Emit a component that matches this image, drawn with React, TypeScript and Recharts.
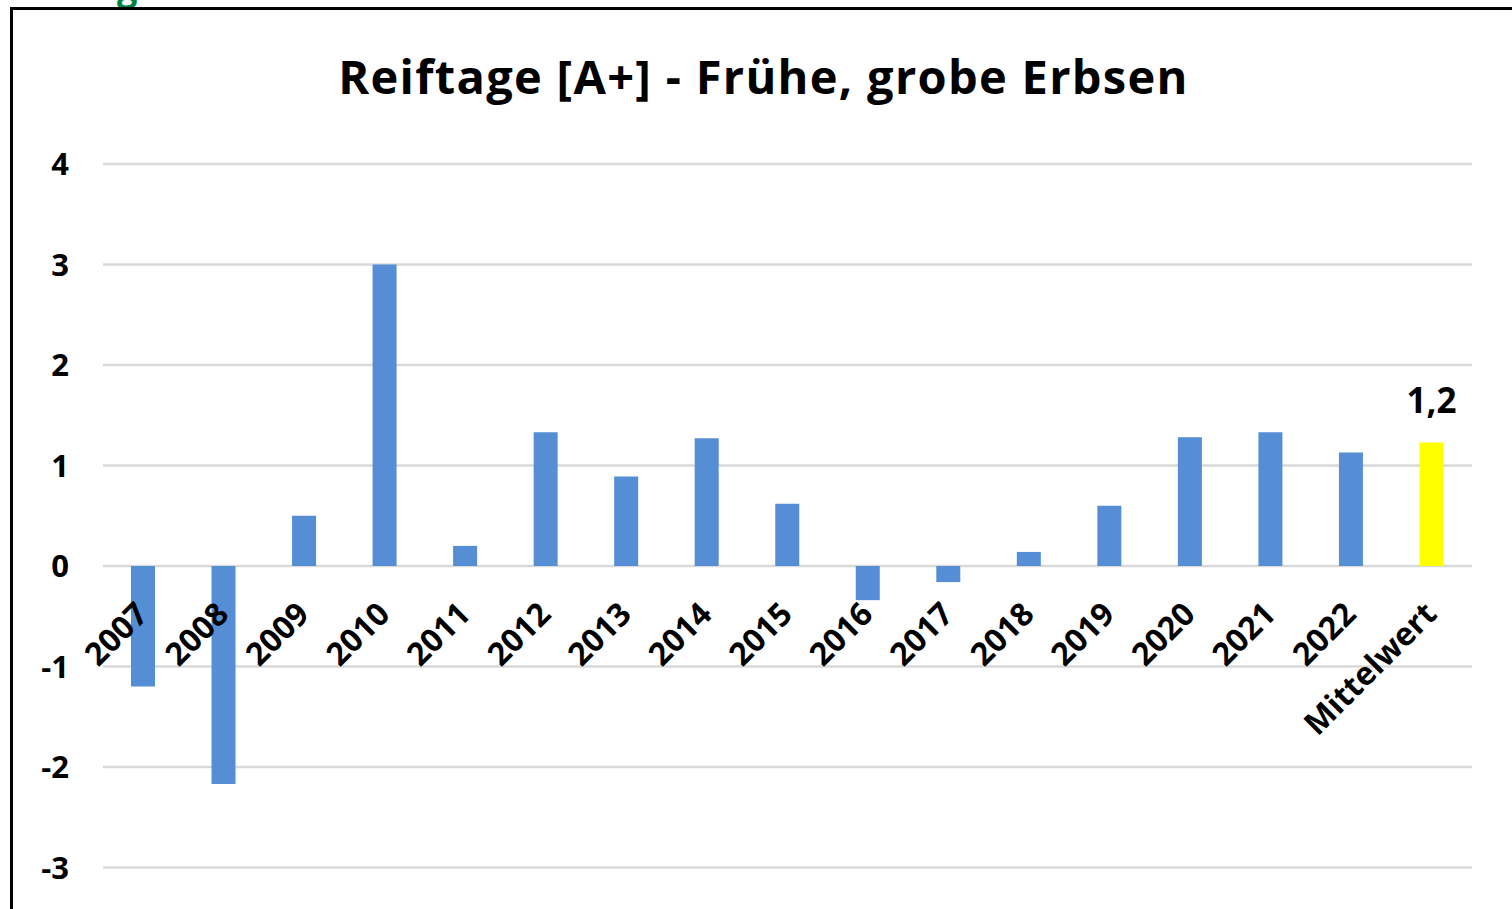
import React from 'react';
import {
  BarChart,
  Bar,
  XAxis,
  YAxis,
  CartesianGrid,
  Cell,
  LabelList,
} from 'recharts';

// Reiftage [A+] - early, coarse peas: deviation in days per year plus the mean

const categories = [
  '2007', '2008', '2009', '2010', '2011', '2012', '2013', '2014', '2015',
  '2016', '2017', '2018', '2019', '2020', '2021', '2022', 'Mittelwert',
];
const values = [
  -1.2, -2.17, 0.5, 3.0, 0.2, 1.33, 0.89, 1.27, 0.62,
  -0.34, -0.16, 0.14, 0.6, 1.28, 1.33, 1.13, 1.23,
];
const valueLabels = [
  '', '', '', '', '', '', '', '', '', '', '', '', '', '', '', '', '1,2',
];
const yTicks = [-3, -2, -1, 0, 1, 2, 3, 4];

const data = categories.map((year, i) => ({
  year,
  value: values[i],
  label: valueLabels[i] || undefined,
}));

const FONT = '"Open Sans", "Noto Sans", sans-serif';
const BLUE = '#558ed5';
const YELLOW = '#ffff00';

// year labels sit under the zero line (Excel draws the category axis at 0)
function YearLabel(props: any) {
  const vb = props.viewBox || props;
  const { x, y, width, height } = vb;
  const val = values[props.index] ?? 0;
  const zero = val >= 0 ? Math.max(y, y + height) : Math.min(y, y + height);
  const ax = x + width / 2 + 7;
  const ay = zero + 50;
  return (
    <text
      x={ax}
      y={ay}
      textAnchor="end"
      transform={`rotate(-45 ${ax} ${ay})`}
      fontFamily={FONT}
      fontWeight={700}
      fontSize={32}
      fill="#000"
    >
      {props.value}
    </text>
  );
}

export default function App() {
  return (
    <div
      style={{
        position: 'absolute',
        left: 0,
        top: 0,
        width: 1512,
        height: 909,
        overflow: 'hidden',
        background: '#fff',
      }}
    >
      <div
        style={{
          position: 'absolute',
          left: 117,
          top: -31,
          fontFamily: FONT,
          fontWeight: 700,
          fontSize: 36,
          lineHeight: '36px',
          color: '#00843d',
        }}
      >
        g
      </div>
      <div
        style={{
          position: 'absolute',
          left: 10,
          top: 7,
          width: 1600,
          height: 1000,
          borderTop: '3px solid #000',
          borderLeft: '3px solid #000',
        }}
      />
      <div
        style={{
          position: 'absolute',
          left: 763.5,
          top: 53,
          transform: 'translateX(-50%)',
          whiteSpace: 'nowrap',
          fontFamily: FONT,
          fontWeight: 700,
          fontSize: 47,
          letterSpacing: 1.3,
          lineHeight: '47px',
          color: '#000',
        }}
      >
        Reiftage [A+] - Frühe, grobe Erbsen
      </div>
      <div style={{ position: 'absolute', left: 0, top: 0 }}>
        <BarChart
          width={1512}
          height={990}
          data={data}
          margin={{ top: 164, right: 40, left: 0, bottom: 22 }}
          barSize={24}
        >
          <CartesianGrid
            vertical={false}
            stroke="#d9d9d9"
            strokeWidth={2.5}
          />
          <XAxis dataKey="year" hide />
          <YAxis
            width={103}
            domain={[-4, 4]}
            ticks={yTicks}
            axisLine={false}
            tickLine={false}
            tickSize={0}
            tickMargin={34}
            tick={{
              fontFamily: FONT,
              fontWeight: 700,
              fontSize: 31,
              fill: '#000',
            }}
          />
          <Bar dataKey="value" isAnimationActive={false}>
            {data.map((d, i) => (
              <Cell key={d.year} fill={i === data.length - 1 ? YELLOW : BLUE} />
            ))}
            <LabelList dataKey="year" content={YearLabel} />
            <LabelList
              dataKey="label"
              position="top"
              offset={29}
              fill="#000"
              fontFamily={FONT}
              fontWeight={700}
              fontSize={35}
            />
          </Bar>
        </BarChart>
      </div>
    </div>
  );
}
